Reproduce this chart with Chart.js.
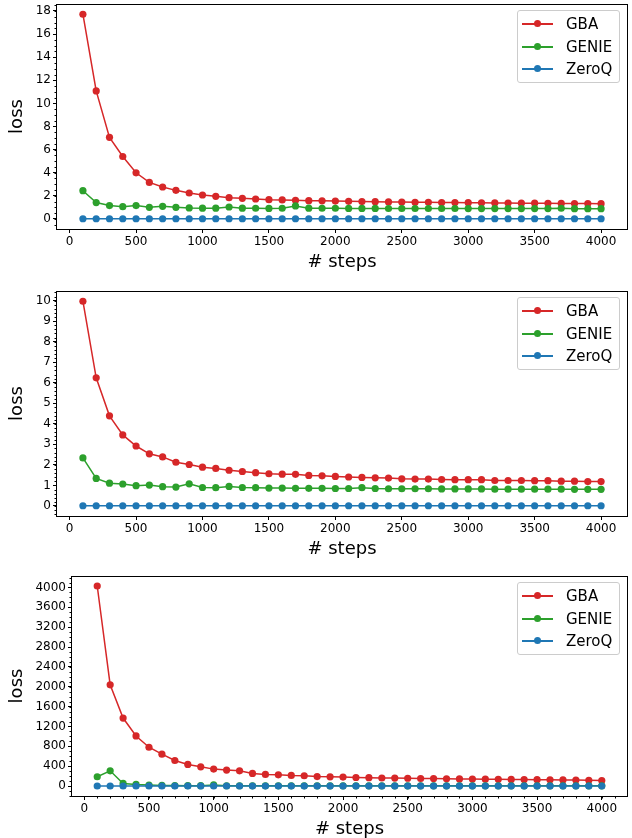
<!DOCTYPE html>
<html>
<head>
<meta charset="utf-8">
<script src="https://cdn.jsdelivr.net/npm/chart.js@4.4.1/dist/chart.umd.min.js"></script>
<style>
    body { margin: 0; background: #fff; width: 632px; height: 838px; position: relative; overflow: hidden; font-family: "DejaVu Sans", sans-serif; }
    .panel { position: absolute; left: 0; width: 632px; }
    .legend { position: absolute; left: 517px; width: 101px; height: 71px; border: 1px solid #ccc; border-radius: 3px; background: rgba(255, 255, 255, 0.8); }
    .legend .row { position: absolute; left: 0; width: 100%; height: 18px; }
    .legend .line { position: absolute; left: 4px; top: 8px; width: 31px; height: 1.5px; }
    .legend .dot { position: absolute; left: 16px; top: 5px; width: 7px; height: 7px; border-radius: 50%; }
    .legend .txt { position: absolute; left: 48px; top: 0; line-height: 18px; font-size: 15px; color: #000; white-space: nowrap; }
</style>
</head>
<body>
<canvas id="c1" class="panel" style="top:0px" width="632" height="287"></canvas>
<canvas id="c2" class="panel" style="top:287px" width="632" height="287"></canvas>
<canvas id="c3" class="panel" style="top:572px" width="632" height="272"></canvas>
<script>
// Three loss curves vs. training steps, one panel per setting.
var names = ["GBA", "GENIE", "ZeroQ"];
var colors = ["#d62728", "#2ca02c", "#1f77b4"];

var steps = [100, 200, 300, 400, 500, 600, 700, 800, 900, 1000,
    1100, 1200, 1300, 1400, 1500, 1600, 1700, 1800, 1900, 2000,
    2100, 2200, 2300, 2400, 2500, 2600, 2700, 2800, 2900, 3000,
    3100, 3200, 3300, 3400, 3500, 3600, 3700, 3800, 3900, 4000];
var xTicks = [0, 500, 1000, 1500, 2000, 2500, 3000, 3500, 4000];

// panel 1
var gba1 = [17.72, 11.08, 7.06, 5.40, 3.99, 3.16, 2.76, 2.47, 2.24, 2.07,
    1.95, 1.84, 1.78, 1.72, 1.66, 1.64, 1.61, 1.58, 1.56, 1.54,
    1.52, 1.50, 1.49, 1.47, 1.46, 1.44, 1.43, 1.42, 1.41, 1.40,
    1.39, 1.38, 1.37, 1.36, 1.36, 1.35, 1.34, 1.33, 1.33, 1.32];
var genie1 = [2.44, 1.41, 1.15, 1.06, 1.15, 1.00, 1.09, 1.00, 0.95, 0.93,
    0.93, 1.03, 0.93, 0.92, 0.91, 0.92, 1.12, 0.93, 0.92, 0.92,
    0.91, 0.91, 0.91, 0.90, 0.90, 0.90, 0.90, 0.90, 0.90, 0.89,
    0.89, 0.89, 0.89, 0.89, 0.89, 0.89, 0.92, 0.88, 0.88, 0.88];
var zeroq1 = [0.01, 0.01, 0.01, 0.01, 0.01, 0.01, 0.01, 0.01, 0.01, 0.01,
    0.01, 0.01, 0.01, 0.01, 0.01, 0.01, 0.01, 0.01, 0.01, 0.01,
    0.01, 0.01, 0.01, 0.01, 0.01, 0.01, 0.01, 0.01, 0.01, 0.01,
    0.01, 0.01, 0.01, 0.01, 0.01, 0.01, 0.01, 0.01, 0.01, 0.01];
var yTicks1 = [0, 2, 4, 6, 8, 10, 12, 14, 16, 18];

// panel 2
var gba2 = [9.97, 6.24, 4.39, 3.46, 2.92, 2.54, 2.39, 2.13, 2.02, 1.89,
    1.83, 1.74, 1.68, 1.62, 1.57, 1.55, 1.54, 1.49, 1.47, 1.44,
    1.41, 1.39, 1.37, 1.36, 1.32, 1.31, 1.31, 1.29, 1.28, 1.28,
    1.28, 1.24, 1.24, 1.24, 1.23, 1.23, 1.21, 1.21, 1.19, 1.19];
var genie2 = [2.34, 1.34, 1.11, 1.07, 0.99, 1.02, 0.94, 0.92, 1.08, 0.90,
    0.89, 0.95, 0.90, 0.89, 0.87, 0.87, 0.86, 0.86, 0.86, 0.85,
    0.85, 0.89, 0.85, 0.84, 0.84, 0.84, 0.84, 0.83, 0.83, 0.83,
    0.83, 0.82, 0.82, 0.82, 0.82, 0.82, 0.82, 0.81, 0.81, 0.81];
var zeroq2 = [0.01, 0.01, 0.01, 0.01, 0.01, 0.01, 0.01, 0.01, 0.01, 0.01,
    0.01, 0.01, 0.01, 0.01, 0.01, 0.01, 0.01, 0.01, 0.01, 0.01,
    0.01, 0.01, 0.01, 0.01, 0.01, 0.01, 0.01, 0.01, 0.01, 0.01,
    0.01, 0.01, 0.01, 0.01, 0.01, 0.01, 0.01, 0.01, 0.01, 0.01];
var yTicks2 = [0, 1, 2, 3, 4, 5, 6, 7, 8, 9, 10];

// panel 3
var gba3 = [4030, 2039, 1370, 1009, 782, 642, 515, 435, 387, 341,
    321, 307, 254, 234, 227, 214, 207, 190, 185, 180,
    172, 168, 162, 160, 157, 152, 150, 146, 143, 140,
    138, 136, 133, 131, 129, 126, 124, 120, 117, 112];
var genie3 = [187, 307, 53, 33, 20, 12, 9, 8, 7, 22,
    6, 6, 5, 5, 5, 5, 5, 4, 4, 4,
    4, 4, 4, 4, 4, 4, 4, 4, 4, 4,
    4, 4, 4, 4, 4, 4, 4, 4, 4, 4];
var zeroq3 = [1, 1, 1, 1, 1, 1, 1, 1, 1, 1,
    1, 1, 1, 1, 1, 1, 1, 1, 1, 1,
    1, 1, 1, 1, 1, 1, 1, 1, 1, 1,
    1, 1, 1, 1, 1, 1, 1, 1, 1, 1];
var yTicks3 = [0, 400, 800, 1200, 1600, 2000, 2400, 2800, 3200, 3600, 4000];

Chart.defaults.color = "#000";
Chart.defaults.font.family = "'DejaVu Sans', sans-serif";
Chart.defaults.font.size = 12;

function points(ys) {
    return ys.map(function (y, i) {
        return { x: steps[i], y: y };
    });
}

// Axes box on all four sides, like matplotlib spines.
var framePlugin = {
    id: "frame",
    afterDraw: function (chart) {
        var a = chart.chartArea, ctx = chart.ctx;
        ctx.save();
        ctx.strokeStyle = "#000";
        ctx.lineWidth = 1;
        ctx.strokeRect(Math.round(a.left) - 0.5, Math.round(a.top) + 0.5,
            Math.round(a.right - a.left) + 1, Math.round(a.bottom - a.top));
        ctx.restore();
    }
};

// Short minor ticks, placed through the scales.
var minorPlugin = {
    id: "minor",
    afterDraw: function (chart, args, opts) {
        var ctx = chart.ctx;
        ctx.save();
        ctx.strokeStyle = "#000";
        ctx.lineWidth = 1;
        ["x", "y"].forEach(function (id) {
            var step = opts[id];
            if (!step) {
                return;
            }
            var scale = chart.scales[id];
            var k0 = Math.ceil(scale.min / step), k1 = Math.floor(scale.max / step);
            for (var k = k0; k <= k1; k++) {
                var p = Math.round(scale.getPixelForValue(k * step)) + 0.5;
                ctx.beginPath();
                if (id === "y") {
                    ctx.moveTo(chart.chartArea.left, p);
                    ctx.lineTo(chart.chartArea.left - 2.5, p);
                } else {
                    ctx.moveTo(p, chart.chartArea.bottom);
                    ctx.lineTo(p, chart.chartArea.bottom + 2.5);
                }
                ctx.stroke();
            }
        });
        ctx.restore();
    }
};

function makePanel(canvasId, series, yTicks, cfg) {
    var all = series[0].concat(series[1], series[2]);
    var lo = Math.min.apply(null, all), hi = Math.max.apply(null, all);
    var ym = (hi - lo) * 0.05;
    var xm = (steps[steps.length - 1] - steps[0]) * 0.05;
    var tickGrid = { display: true, drawOnChartArea: false, drawTicks: true, tickLength: 4, tickColor: "#000", tickWidth: 1 };

    new Chart(document.getElementById(canvasId), {
        type: "line",
        data: {
            datasets: series.map(function (ys, i) {
                return {
                    label: names[i],
                    data: points(ys),
                    borderColor: colors[i],
                    backgroundColor: colors[i],
                    borderWidth: 1.5,
                    pointRadius: 3.6,
                    pointBorderWidth: 0,
                    pointBackgroundColor: colors[i],
                    tension: 0,
                    order: 3 - i
                };
            })
        },
        options: {
            responsive: false,
            animation: false,
            events: [],
            layout: { padding: { left: 0, right: 5, top: 3, bottom: 0 } },
            plugins: {
                legend: { display: false },
                tooltip: { enabled: false },
                minor: { x: cfg.xMinor, y: cfg.yMinor }
            },
            scales: {
                x: {
                    type: "linear",
                    min: steps[0] - xm,
                    max: steps[steps.length - 1] + xm,
                    grid: tickGrid,
                    border: { display: false },
                    afterBuildTicks: function (s) {
                        s.ticks = xTicks.map(function (v) { return { value: v }; });
                    },
                    afterFit: function (s) {
                        s.height = cfg.xHeight;
                        s.paddingLeft = 0;
                        s.paddingRight = 0;
                    },
                    ticks: { padding: 2, maxRotation: 0, autoSkip: false, callback: function (v) { return String(v); } },
                    title: { display: true, text: "# steps", font: { size: 18 }, padding: { top: 0, bottom: cfg.xTitlePad } }
                },
                y: {
                    type: "linear",
                    min: lo - ym,
                    max: hi + ym,
                    grid: tickGrid,
                    border: { display: false },
                    afterBuildTicks: function (s) {
                        s.ticks = yTicks.map(function (v) { return { value: v }; });
                    },
                    afterFit: function (s) {
                        s.width = cfg.yWidth;
                        s.paddingTop = 0;
                        s.paddingBottom = 0;
                    },
                    ticks: { padding: 2, autoSkip: false, callback: function (v) { return String(v); } },
                    title: { display: true, text: "loss", font: { size: 18 }, padding: { top: 7, bottom: 0 } }
                }
            }
        },
        plugins: [framePlugin, minorPlugin]
    });
}

function addLegend(boxTop) {
    var box = document.createElement("div");
    box.className = "legend";
    box.style.top = boxTop + "px";
    names.forEach(function (name, i) {
        var row = document.createElement("div");
        row.className = "row";
        row.style.top = Math.round(4 + i * 22.5) + "px";
        row.innerHTML = '<span class="line" style="background:' + colors[i] + '"></span>' +
            '<span class="dot" style="background:' + colors[i] + '"></span>' +
            '<span class="txt">' + name + "</span>";
        box.appendChild(row);
    });
    document.body.appendChild(box);
}

makePanel("c1", [gba1, genie1, zeroq1], yTicks1, { yWidth: 57, xHeight: 58, xTitlePad: 14, yMinor: 0.5, xMinor: 0 });
makePanel("c2", [gba2, genie2, zeroq2], yTicks2, { yWidth: 57, xHeight: 58, xTitlePad: 14, yMinor: 0.2, xMinor: 0 });
makePanel("c3", [gba3, genie3, zeroq3], yTicks3, { yWidth: 72, xHeight: 48, xTitlePad: 4, yMinor: 100, xMinor: 100 });

addLegend(10);
addLegend(297);
addLegend(582);
</script>
</body>
</html>
